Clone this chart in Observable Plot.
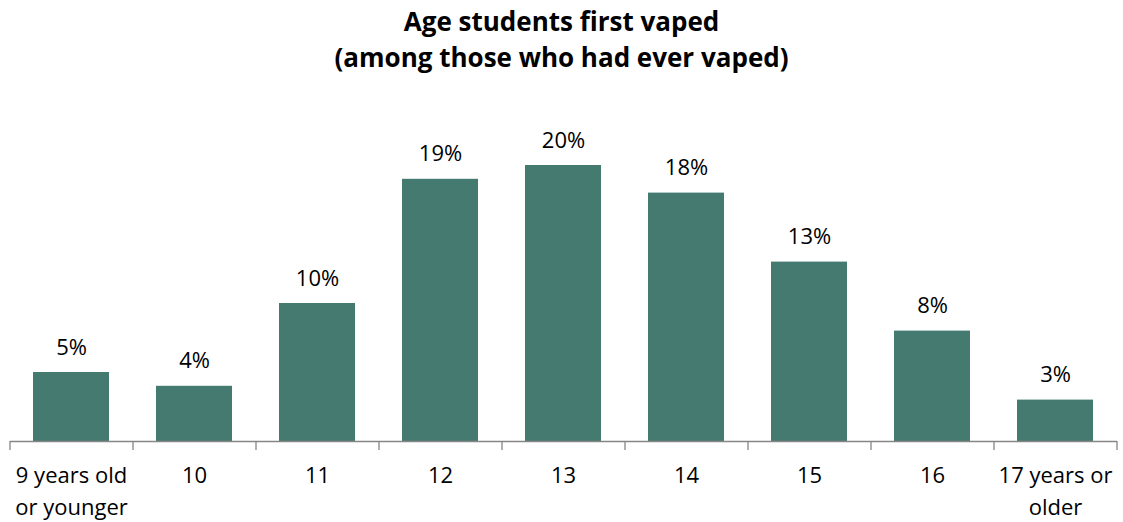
<!DOCTYPE html>
<html>
<head>
<meta charset="utf-8">
<script src="https://cdn.jsdelivr.net/npm/d3@7"></script>
<script src="https://cdn.jsdelivr.net/npm/@observablehq/plot@0.6"></script>
<style>
  html, body { margin: 0; padding: 0; background: #fff; }
  #wrap { width: 1123px; height: 522px; position: relative; overflow: hidden; }
  #title { height: 90px; box-sizing: border-box; padding-top: 3px; text-align: center;
    font-family: "Open Sans", sans-serif; font-weight: bold; font-size: 26px; line-height: 36px; color: #000; }
  #chart svg { display: block; }
</style>
</head>
<body>
<div id="wrap">
  <div id="title">Age students first vaped<br>(among those who had ever vaped)</div>
  <div id="chart"></div>
</div>
<script>
const categories = ["9 years old\nor younger", "10", "11", "12", "13", "14", "15", "16", "17 years or\nolder"];
const values = [5, 4, 10, 19, 20, 18, 13, 8, 3];
const valueLabels = ["5%", "4%", "10%", "19%", "20%", "18%", "13%", "8%", "3%"];

const data = categories.map((c, i) => ({category: c, value: values[i], label: valueLabels[i]}));

const W = 1123, H = 432;
const mL = 10, mR = 6;
const axisColor = "#868686";

const boundaryTicks = (index, scales, values, dims) => {
  const g = d3.create("svg:g");
  const n = categories.length;
  const step = (dims.width - dims.marginLeft - dims.marginRight) / n;
  const y0 = scales.y(0);
  for (let i = 0; i <= n; i++) {
    const x = dims.marginLeft + i * step;
    g.append("line").attr("x1", x).attr("x2", x).attr("y1", y0).attr("y2", y0 + 9)
      .attr("stroke", axisColor).attr("stroke-width", 1.3);
  }
  return g.node();
};

const chart = Plot.plot({
  width: W,
  height: H,
  marginLeft: mL,
  marginRight: mR,
  marginTop: 75,
  marginBottom: 81,
  style: {fontFamily: "'Open Sans', sans-serif", fontSize: "22px", color: "#000", background: "#fff"},
  x: {domain: categories, paddingInner: 0.38, paddingOuter: 0.19, label: null},
  y: {domain: [0, 20], axis: null},
  marks: [
    Plot.barY(data, {x: "category", y: "value", fill: "#457A70"}),
    Plot.ruleY([0], {stroke: axisColor, strokeWidth: 1.3}),
    boundaryTicks,
    Plot.text(data, {x: "category", y: "value", text: "label", dy: -25, fontSize: 22, fill: "#000"}),
    Plot.axisX({tickSize: 0, tickPadding: 19, fontSize: 22, lineHeight: 1.45, label: null, fill: "#000"})
  ]
});
document.getElementById("chart").appendChild(chart);
</script>
</body>
</html>
